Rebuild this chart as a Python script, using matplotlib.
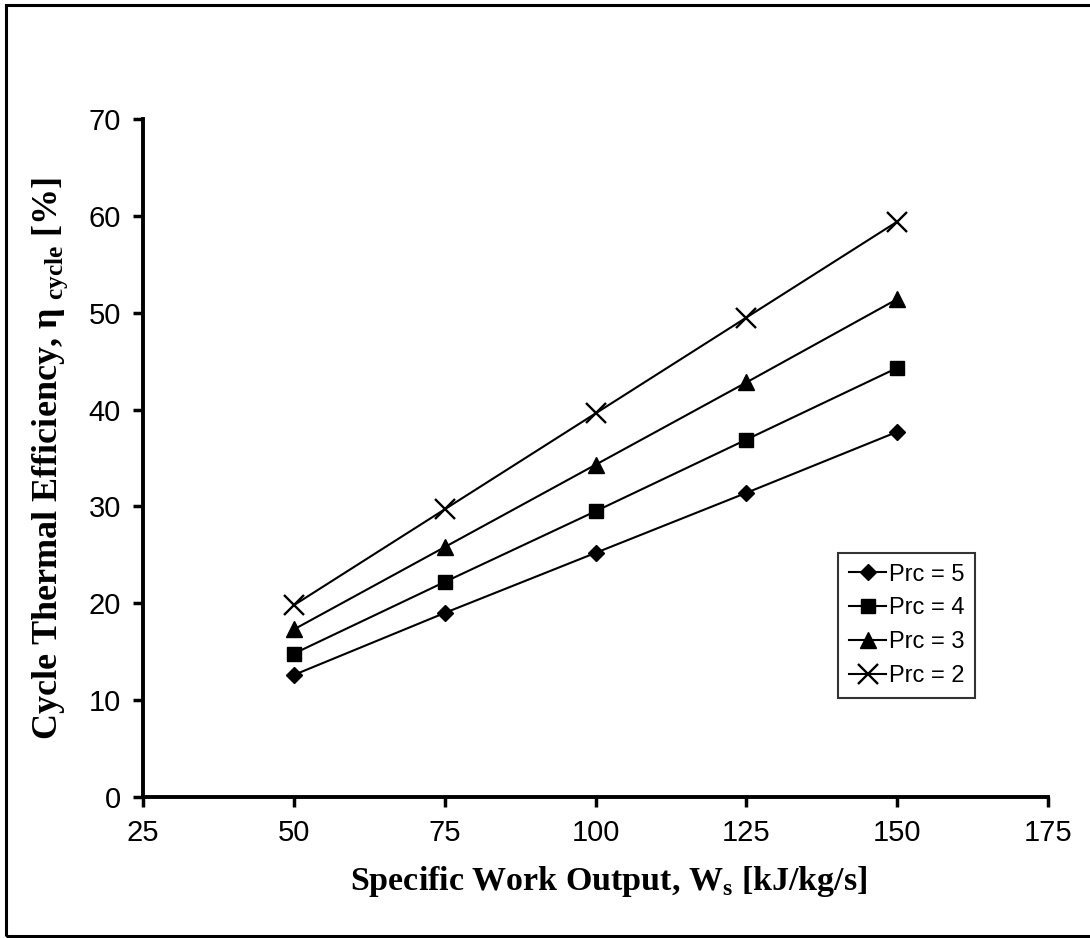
import matplotlib
matplotlib.use("Agg")
import matplotlib.pyplot as plt
from matplotlib.patches import Rectangle

# Specific work output [kJ/kg/s]
work_output = [50, 75, 100, 125, 150]

# Cycle thermal efficiency [%] for each compressor pressure ratio
eff_prc5 = [12.6, 19.0, 25.2, 31.4, 37.7]
eff_prc4 = [14.8, 22.2, 29.5, 36.9, 44.3]
eff_prc3 = [17.3, 25.8, 34.3, 42.8, 51.4]
eff_prc2 = [19.8, 29.7, 39.6, 49.5, 59.4]

series_labels = ["Prc = 5", "Prc = 4", "Prc = 3", "Prc = 2"]
x_ticks = [25, 50, 75, 100, 125, 150, 175]
y_ticks = [0, 10, 20, 30, 40, 50, 60, 70]

plt.rcParams["mathtext.fontset"] = "custom"
plt.rcParams["mathtext.rm"] = "Liberation Serif:bold"
plt.rcParams["mathtext.bf"] = "Liberation Serif:bold"

W, H = 1090, 938
fig = plt.figure(figsize=(W / 100, H / 100), dpi=100)
ax = fig.add_axes([143 / W, 1 - 797 / H, (1048 - 143) / W, (797 - 119) / H])

styles = [
    dict(marker="D", ms=8),
    dict(marker="s", ms=10.5),
    dict(marker="^", ms=11.5),
    dict(marker="x", ms=14, mew=1.7),
]
for vals, lab, st in zip([eff_prc5, eff_prc4, eff_prc3, eff_prc2], series_labels, styles):
    ax.plot(work_output, vals, color="black", lw=1.5, label=lab,
            markerfacecolor="black", markeredgecolor="black", **st)

ax.set_xlim(25, 175)
ax.set_ylim(0, 70)
ax.set_xticks(x_ticks)
ax.set_yticks(y_ticks)
ax.tick_params(direction="out", length=7, width=2.5, labelsize=21, pad=9)
for lbl in ax.get_xticklabels() + ax.get_yticklabels():
    lbl.set_fontfamily("Liberation Sans")

ax.spines["top"].set_visible(False)
ax.spines["right"].set_visible(False)
ax.spines["left"].set_linewidth(2.8)
ax.spines["bottom"].set_linewidth(2.8)

ax.set_xlabel(r"Specific Work Output, W$_{\rm s}$ [kJ/kg/s]",
              fontfamily="Liberation Serif", fontweight="bold", fontsize=24.5)
ax.xaxis.set_label_coords(0.515, -(864 - 797) / (797 - 119))
ax.set_ylabel("Cycle Thermal Efficiency, \u03b7" + r"$_{\rm\ cycle}$" + " [%]",
              fontfamily="Liberation Serif", fontweight="bold", fontsize=26)
ax.yaxis.set_label_coords(-(143 - 70) / (1048 - 143), 0.5)

handles, labels = ax.get_legend_handles_labels()
leg = fig.legend(handles, labels,
                 loc="upper left", bbox_to_anchor=(838 / W, 1 - 553 / H),
                 borderaxespad=0, frameon=True, fancybox=False,
                 edgecolor="black", handlelength=1.6, handletextpad=0.1,
                 borderpad=0.45, labelspacing=0.5,
                 prop={"family": "Liberation Sans", "size": 17})
leg.get_frame().set_linewidth(1.5)

# outer frame of the figure
fig.patches.append(Rectangle((6 / W, 2 / H), 1.2, 931 / H,
                             transform=fig.transFigure, fill=False,
                             edgecolor="black", lw=2.2))

fig.savefig("out.png", dpi=100, facecolor="white")
